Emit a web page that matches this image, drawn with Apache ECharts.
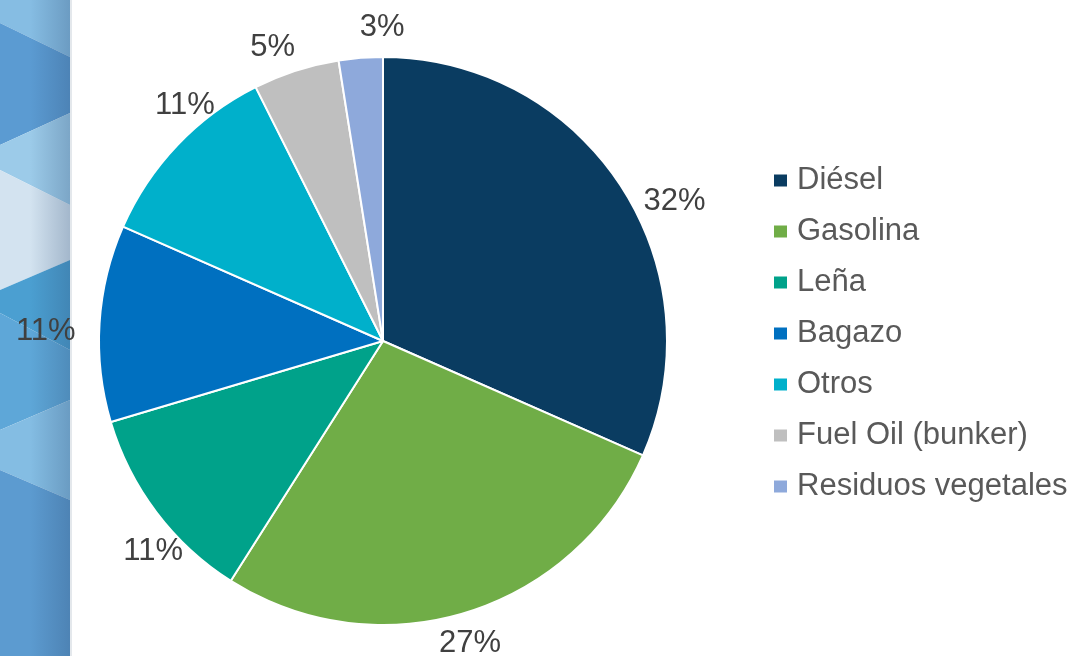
<!DOCTYPE html>
<html>
<head>
<meta charset="utf-8">
<script src="https://cdn.jsdelivr.net/npm/echarts@6/dist/echarts.min.js"></script>
<style>
html,body{margin:0;padding:0;background:#fff;}
#chart{width:1079px;height:656px;}
</style>
</head>
<body>
<div id="chart"></div>
<script>
var categories = ['Diésel', 'Gasolina', 'Leña', 'Bagazo', 'Otros', 'Fuel Oil (bunker)', 'Residuos vegetales'];
var shares = [31.6, 27.4, 11.4, 11.2, 11.0, 4.9, 2.5];
var colors = ['#0A3C61', '#70AD47', '#00A28A', '#0070C0', '#00B0CB', '#BFBFBF', '#8EA9DB'];
// small label nudges (pixels) to follow the original's hand-placed labels
var labelNudge = [[11, 31], [-15, 0], [37, 22], [-6, 10], [45, -19], [-6, 7], [30, 3]];

var CX = 383, CY = 341, RADIUS = 284, GAP = 18;

// decorative left strip (slide background)
var bands = [
  {c:'#86bde3', top:[0,0], bot:[23,57]},
  {c:'#5b9bd2', top:[23,57], bot:[145,113]},
  {c:'#9ccbe9', top:[145,113], bot:[170,205]},
  {c:'#d3e3f0', top:[170,205], bot:[290,260]},
  {c:'#4b9fd1', top:[290,260], bot:[313,350]},
  {c:'#5ea7d8', top:[313,350], bot:[430,400]},
  {c:'#84bde3', top:[430,400], bot:[470,500]},
  {c:'#5c9bd0', top:[470,500], bot:[656,656]}
];
var W = 70;
var graphics = bands.map(function(b){
  return {type:'polygon', silent:true, z:-10,
    shape:{points:[[0,b.top[0]],[W,b.top[1]],[W,b.bot[1]],[0,b.bot[0]]]},
    style:{fill:b.c}};
});
graphics.push({type:'rect', silent:true, z:-9, shape:{x:30,y:0,width:W-30,height:656},
  style:{fill:new echarts.graphic.LinearGradient(0,0,1,0,[{offset:0,color:'rgba(40,70,110,0)'},{offset:1,color:'rgba(40,70,110,0.28)'}])}});
graphics.push({type:'rect', silent:true, z:-9, shape:{x:W,y:0,width:2,height:656}, style:{fill:'#e4e8ec'}});

var chart = echarts.init(document.getElementById('chart'), null, {renderer:'canvas'});
chart.setOption({
  backgroundColor:'#ffffff',
  animation:false,
  color: colors,
  graphic: graphics,
  legend:{
    orient:'vertical',
    left:767, top:160,
    icon:'rect', itemWidth:15, itemHeight:14, itemGap:20,
    data: categories,
    textStyle:{fontFamily:'Liberation Sans, Arial, sans-serif', fontSize:31, color:'#595959', lineHeight:31, padding:[0,0,0,4]}
  },
  series:[{
    type:'pie',
    center:[CX, CY],
    radius:RADIUS,
    startAngle:90,
    clockwise:true,
    avoidLabelOverlap:false,
    percentPrecision:0,
    itemStyle:{borderColor:'#ffffff', borderWidth:2},
    label:{show:true, position:'outside', formatter:'{d}%',
      fontFamily:'Liberation Sans, Arial, sans-serif', fontSize:31, color:'#404040'},
    labelLine:{show:false, length:10, length2:0},
    labelLayout:function(p){
      var r = p.labelRect;
      var ax = p.align === 'left' ? r.x : (p.align === 'right' ? r.x + r.width : r.x + r.width/2);
      var ay = r.y + r.height/2;
      var dx = ax - CX, dy = ay - CY, d = Math.sqrt(dx*dx + dy*dy);
      var ux = dx/d, uy = dy/d, R = RADIUS + GAP;
      var n = labelNudge[p.dataIndex] || [0, 0];
      return {x: CX + ux*R + ux*r.width/2 + n[0], y: CY + uy*R + uy*r.height/2 + n[1], align:'center', verticalAlign:'middle'};
    },
    emphasis:{disabled:true},
    data: categories.map(function(n,i){ return {name:n, value:shares[i]}; })
  }]
});
</script>
</body>
</html>
